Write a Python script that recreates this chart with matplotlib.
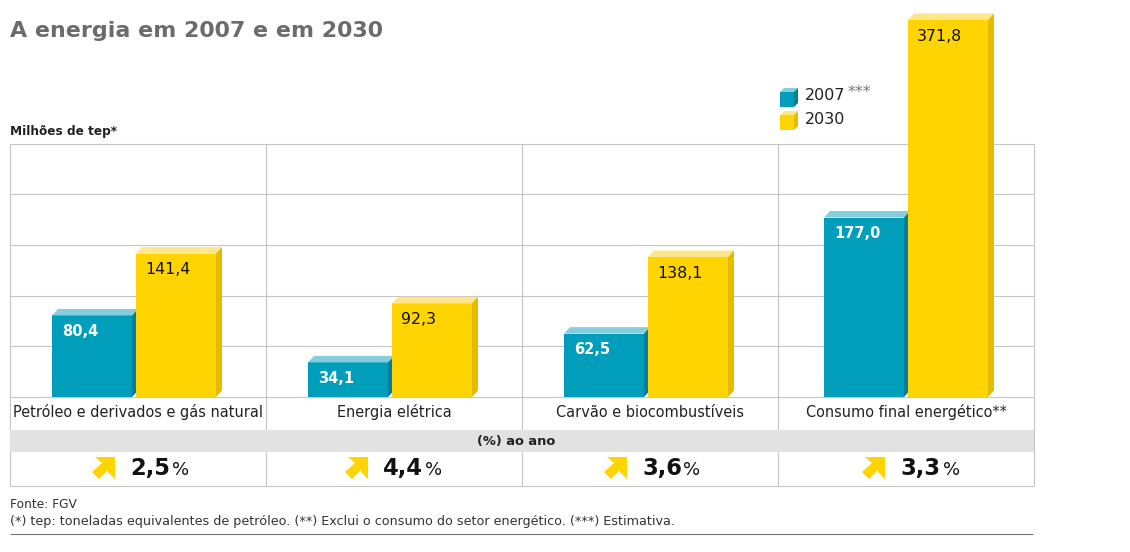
import matplotlib
matplotlib.use("Agg")
import matplotlib.pyplot as plt
from matplotlib.patches import Polygon, Rectangle

plt.rcParams['font.family'] = ['DejaVu Sans']

categories = ["Petróleo e derivados e gás natural", "Energia elétrica",
              "Carvão e biocombustíveis", "Consumo final energético**"]
values_2007 = [80.4, 34.1, 62.5, 177.0]
values_2030 = [141.4, 92.3, 138.1, 371.8]
growth = ["2,5%", "4,4%", "3,6%", "3,3%"]
grid_values = [0, 50, 100, 150, 200, 250]

W, H = 1130, 552
BASE, SCALE = 397.0, 1.014
BLUE, BLUE_TOP, BLUE_SIDE = "#009ebb", "#86cedd", "#007f97"
YEL, YEL_TOP, YEL_SIDE = "#ffd400", "#ffe68c", "#e3bc00"
LINE = "#c6c6c6"
COLS = [10, 266, 522, 778, 1034]
BLUE_X = [52, 308, 564, 824]
BAR_W, DX, DY_PX = 80, 6, 6.5
TXT = "#222222"

fig = plt.figure(figsize=(W / 100, H / 100), dpi=100, facecolor="white")
ax = fig.add_axes([0, 0, 1, 1], zorder=2)
ax.set_xlim(0, W)
ax.set_ylim((BASE - H) / SCALE, BASE / SCALE)
ax.axis("off")
px = fig.add_axes([0, 0, 1, 1], zorder=1)   # pixel-space layer for the table
px.set_xlim(0, W); px.set_ylim(H, 0); px.axis("off")
top = fig.add_axes([0, 0, 1, 1], zorder=3)  # pixel-space layer for text
top.set_xlim(0, W); top.set_ylim(H, 0); top.axis("off"); top.patch.set_alpha(0)

# grid
ax.hlines(grid_values, COLS[0], COLS[-1], color=LINE, lw=0.8, zorder=1)
px.vlines(COLS, 143.5, 486, color=LINE, lw=0.8)
px.add_patch(Rectangle((10, 430), 1024, 22, fc="#e2e2e2", ec="none", zorder=3))
px.hlines(486, 10, 1034, color=LINE, lw=0.8)
px.hlines(534, 10, 1033, color="#777777", lw=0.8)


def bar3d(x, v, c, ctop, cside, z):
    ax.bar(x, v, BAR_W, align="edge", color=c, lw=0, zorder=z)
    dy = DY_PX / SCALE
    ax.add_patch(Polygon([(x, v), (x + DX, v + dy), (x + BAR_W + DX, v + dy), (x + BAR_W, v)],
                         fc=ctop, ec="none", zorder=z))
    ax.add_patch(Polygon([(x + BAR_W, 0), (x + BAR_W + DX, dy), (x + BAR_W + DX, v + dy), (x + BAR_W, v)],
                         fc=cside, ec="none", zorder=z))


def arrow(cx, cy):
    pts = [(-9, -11), (11, -11), (11, 11), (4, 4), (4, 2), (-5, 11), (-12, 4), (-2, -5)]
    top.add_patch(Polygon([(cx + a, cy + b) for a, b in pts], fc=YEL, ec="none"))


for i in range(4):
    x0 = BLUE_X[i]
    bar3d(x0, values_2007[i], BLUE, BLUE_TOP, BLUE_SIDE, 3)
    bar3d(x0 + BAR_W + 4, values_2030[i], YEL, YEL_TOP, YEL_SIDE, 4)
    ax.text(x0 + 10, values_2007[i] - 16, f"{values_2007[i]:.1f}".replace(".", ","), color="white",
            fontsize=10.5, fontweight="bold", va="center", zorder=6)
    ax.text(x0 + BAR_W + 13, values_2030[i] - 16, f"{values_2030[i]:.1f}".replace(".", ","), color="#111111",
            fontsize=11.3, va="center", zorder=6)
    cx = (COLS[i] + COLS[i + 1]) / 2
    top.text(cx, 417, categories[i], ha="center", va="baseline", fontsize=10.45, color=TXT)
    acx = [104, 357, 616, 874][i]
    arrow(acx, 468)
    top.text(acx + 26, 475, growth[i][:-1], ha="left", va="baseline", fontsize=16.3, fontweight="bold", color="#111111")
    top.text([172, 425, 683, 943][i], 475, "%", ha="left", va="baseline", fontsize=13, color="#111111")

top.text(516, 441, "(%) ao ano", ha="center", va="center", fontsize=9.4, fontweight="bold", color="#222222")
top.text(10, 31, "A energia em 2007 e em 2030", ha="left", va="center", fontsize=15.9, fontweight="bold", color="#6b6b6b")
top.text(10, 132, "Milhões de tep*", ha="left", va="center", fontsize=8.7, fontweight="bold", color="#222222")
top.text(10, 504, "Fonte: FGV", ha="left", va="center", fontsize=8.8, color="#333333")
top.text(10, 521, "(*) tep: toneladas equivalentes de petróleo. (**) Exclui o consumo do setor energético. (***) Estimativa.",
         ha="left", va="center", fontsize=9.2, color="#333333")

# legend
for y, c, ct, cs, lab in [(92, BLUE, BLUE_TOP, BLUE_SIDE, "2007"), (115, YEL, YEL_TOP, YEL_SIDE, "2030")]:
    top.add_patch(Rectangle((780, y), 14, 15, fc=c, ec="none"))
    top.add_patch(Polygon([(780, y), (784, y - 4), (798, y - 4), (794, y)], fc=ct, ec="none"))
    top.add_patch(Polygon([(794, y), (798, y - 4), (798, y + 11), (794, y + 15)], fc=cs, ec="none"))
    top.text(805, y + 4, lab, ha="left", va="center", fontsize=11.5, color="#222222")
top.text(848, 92, "***", ha="left", va="center", fontsize=11.5, color="#777777")

fig.savefig("out.png", dpi=100, facecolor="white")
